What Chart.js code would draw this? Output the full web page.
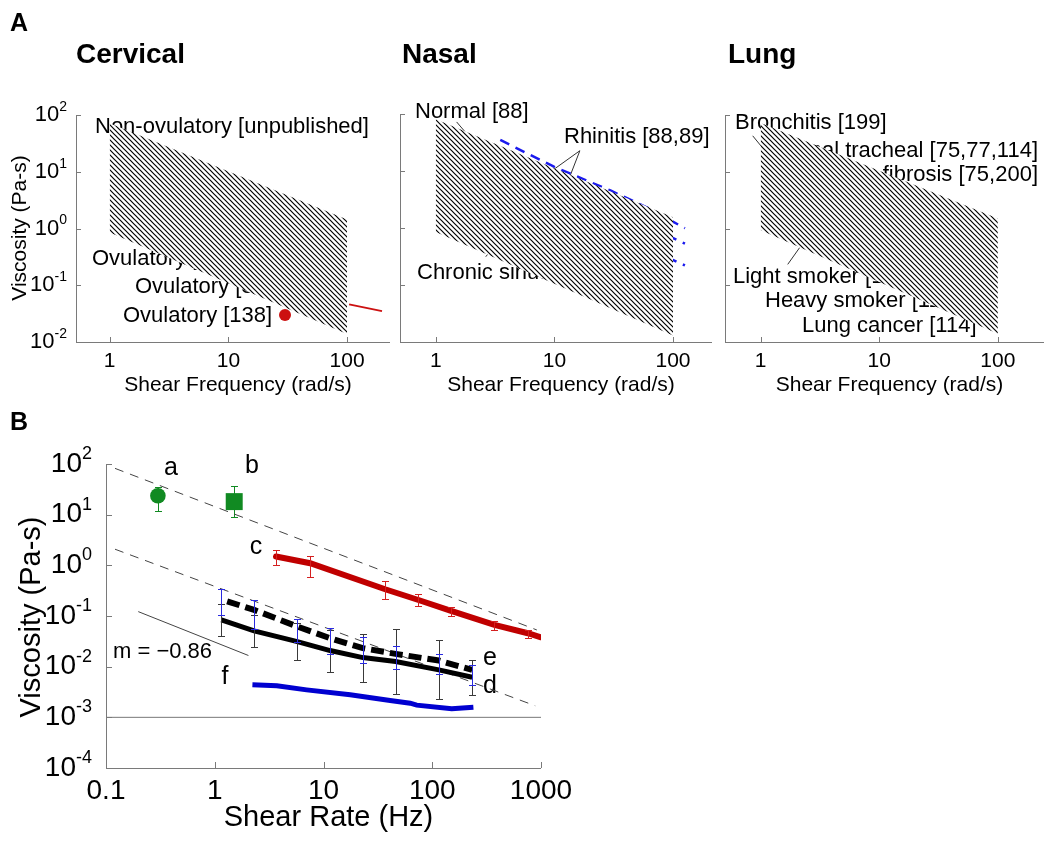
<!DOCTYPE html>
<html>
<head>
<meta charset="utf-8">
<script src="https://cdn.jsdelivr.net/npm/chart.js@4.4.1/dist/chart.umd.min.js"></script>
<style>
  html, body { margin: 0; padding: 0; background: #fff; }
  body { width: 1050px; height: 846px; position: relative; overflow: hidden; }
  canvas { position: absolute; }
</style>
</head>
<body>
<canvas id="cerv" width="396" height="400" style="left:0;top:0"></canvas>
<canvas id="nasal" width="324" height="400" style="left:396px;top:0"></canvas>
<canvas id="lung" width="330" height="400" style="left:720px;top:0"></canvas>
<canvas id="panelB" width="600" height="446" style="left:0;top:400px"></canvas>
<script>
const FONT = '"Liberation Sans", Arial, Helvetica, sans-serif';

// ---- panel A: shear frequency (rad/s) vs viscosity (Pa-s) ----
const freqTicks = [1, 10, 100];
const freqLabels = ['1', '10', '100'];
const viscExpA = [-2, -1, 0, 1, 2];
const bandX = [1, 100];
const cervTop = [71.5, 1.44];
const cervBottom = [0.85, 0.0138];
const nasalTop = [81, 1.55];
const nasalBottom = [0.85, 0.013];
const lungTop = [72, 1.5];
const lungBottom = [0.93, 0.014];
const ovulLineX = [104, 197];
const ovulLineY = [0.046, 0.035];
const ovulDotX = [30];
const ovulDotY = [0.03];
const rhinX = [3.5, 10, 30, 60, 126];
const rhinHigh = [35, 11.8, 4.5, 2.3, 0.99];
const rhinMid = [22, 7, 2.4, 1.1, 0.53];
const rhinLow = [9, 3, 1, 0.45, 0.22];

// ---- panel B: shear rate (Hz) vs viscosity (Pa-s) ----
const rateTicks = [0.1, 1, 10, 100, 1000];
const rateLabels = ['0.1', '1', '10', '100', '1000'];
const viscExpB = [-4, -3, -2, -1, 0, 1, 2];
const aX = [0.3], aY = [23.7], aLo = [12], aHi = [35.8];
const bX = [1.51], bY = [18.1], bLo = [9], bHi = [36.8];
const cX = [3.66, 7.54, 36.9, 74.7, 149, 373, 757, 1000];
const cY = [1.49, 1.10, 0.337, 0.207, 0.126, 0.0667, 0.0457, 0.038];
const cErrX = [3.66, 7.54, 36.9, 74.7, 149, 373, 757];
const cErrHi = [2.01, 1.55, 0.49, 0.268, 0.153, 0.081, 0.053];
const cErrLo = [1.02, 0.58, 0.217, 0.158, 0.102, 0.053, 0.0365];
const dX = [1.15, 2.3, 5.75, 11.5, 23, 46, 115, 233];
const dY = [0.0838, 0.0508, 0.0313, 0.0208, 0.0151, 0.0126, 0.00865, 0.0062];
const dHi = [0.175, 0.106, 0.072, 0.054, 0.045, 0.055, 0.033, 0.0138];
const dLo = [0.04, 0.0243, 0.0136, 0.008, 0.00508, 0.0029, 0.00229, 0.00278];
const eX = [1.3, 2.3, 5.75, 11.5, 23, 46, 115, 233];
const eY = [0.195, 0.132, 0.0618, 0.0365, 0.0232, 0.0179, 0.0132, 0.00865];
const eErrX = [1.15, 2.3, 5.75, 11.5, 23, 46, 115, 233];
const eHi = [0.338, 0.207, 0.0862, 0.0574, 0.0381, 0.026, 0.0179, 0.0108];
const eLo = [0.105, 0.0548, 0.0313, 0.0179, 0.0117, 0.00906, 0.0072, 0.0044];
const fX = [2.22, 3.72, 7.0, 17.6, 41, 62.7, 72, 151, 239];
const fY = [0.00438, 0.00418, 0.00348, 0.00278, 0.00215, 0.0019, 0.00174, 0.00147, 0.00158];
const refHighX = [0.121, 916], refHighY = [82, 0.053];
const refLowX = [0.121, 885], refLowY = [2.08, 0.00169];
const slopeX = [0.198, 2.04], slopeY = [0.122, 0.0166];
const waterX = [0.1, 1000], waterY = [0.001, 0.001];

const pts = (xs, ys) => xs.map((x, i) => ({ x: x, y: ys[i] }));

function hatchPattern() {
  const s = 5;
  const c = document.createElement('canvas');
  c.width = s; c.height = s;
  const g = c.getContext('2d');
  g.fillStyle = '#fff';
  g.fillRect(0, 0, s, s);
  g.strokeStyle = '#000';
  g.lineWidth = 1.2;
  g.beginPath();
  g.moveTo(0, 0); g.lineTo(s, s);
  g.moveTo(-1, s - 1); g.lineTo(1, s + 1);
  g.moveTo(s - 1, -1); g.lineTo(s + 1, 1);
  g.stroke();
  return g.createPattern(c, 'repeat');
}

function text(ctx, s, x, y, font, align) {
  ctx.font = font;
  ctx.textAlign = align || 'left';
  ctx.textBaseline = 'middle';
  ctx.fillStyle = '#000';
  ctx.fillText(s, x, y);
}

function powLabel(ctx, e, xr, y, size, supSize, raise) {
  const sup = String(e);
  ctx.font = supSize + 'px ' + FONT;
  const ew = ctx.measureText(sup).width;
  ctx.font = size + 'px ' + FONT;
  const bw = ctx.measureText('10').width;
  text(ctx, '10', xr - ew - bw, y, size + 'px ' + FONT);
  text(ctx, sup, xr - ew, y - raise, supSize + 'px ' + FONT);
}

function drawAxes(chart, s) {
  const ctx = chart.ctx, a = chart.chartArea, sx = chart.scales.x, sy = chart.scales.y;
  ctx.save();
  ctx.strokeStyle = '#7a7a7a';
  ctx.lineWidth = 1;
  ctx.beginPath();
  ctx.moveTo(a.left + 0.5, a.top);
  ctx.lineTo(a.left + 0.5, a.bottom + 0.5);
  ctx.lineTo(a.right, a.bottom + 0.5);
  s.xTicks.forEach(v => {
    const p = Math.round(sx.getPixelForValue(v)) + 0.5;
    ctx.moveTo(p, a.bottom);
    ctx.lineTo(p, a.bottom - s.tick);
  });
  s.yExp.forEach(e => {
    const p = Math.round(sy.getPixelForValue(Math.pow(10, e))) + 0.5;
    ctx.moveTo(a.left, p);
    ctx.lineTo(a.left + s.tick, p);
  });
  ctx.stroke();

  s.xTicks.forEach((v, i) => {
    text(ctx, s.xLabels[i], sx.getPixelForValue(v), s.xLabelY, s.tickFont + 'px ' + FONT, 'center');
  });
  if (s.yLabels) {
    s.yExp.forEach(e => {
      powLabel(ctx, e, a.left - s.yLabelGap, sy.getPixelForValue(Math.pow(10, e)), s.yFont, s.supFont, s.raise);
    });
    ctx.save();
    ctx.translate(s.yTitleX, s.yTitleY);
    ctx.rotate(-Math.PI / 2);
    text(ctx, 'Viscosity (Pa-s)', 0, 0, s.titleFont + 'px ' + FONT, 'center');
    ctx.restore();
  }
  text(ctx, s.xTitle, (a.left + a.right) / 2 + 5, s.xTitleY, s.titleFont + 'px ' + FONT, 'center');
  ctx.restore();
}

function leaders(chart, segs) {
  const ctx = chart.ctx, sx = chart.scales.x, sy = chart.scales.y;
  ctx.save();
  ctx.strokeStyle = '#333';
  ctx.lineWidth = 1;
  ctx.beginPath();
  segs.forEach(sg => {
    ctx.moveTo(sx.getPixelForValue(sg[0][0]), sy.getPixelForValue(sg[0][1]));
    ctx.lineTo(sx.getPixelForValue(sg[1][0]), sy.getPixelForValue(sg[1][1]));
  });
  ctx.stroke();
  ctx.restore();
}

function errorBars(chart, xs, lo, hi, color, cap) {
  const ctx = chart.ctx, sx = chart.scales.x, sy = chart.scales.y;
  ctx.save();
  ctx.strokeStyle = color;
  ctx.lineWidth = 1;
  ctx.beginPath();
  xs.forEach((x, i) => {
    const px = Math.round(sx.getPixelForValue(x)) + 0.5;
    const p1 = Math.round(sy.getPixelForValue(hi[i])) + 0.5;
    const p2 = Math.round(sy.getPixelForValue(lo[i])) + 0.5;
    ctx.moveTo(px, p1); ctx.lineTo(px, p2);
    ctx.moveTo(px - cap, p1); ctx.lineTo(px + cap, p1);
    ctx.moveTo(px - cap, p2); ctx.lineTo(px + cap, p2);
  });
  ctx.stroke();
  ctx.restore();
}

function makeChart(id, s, datasets) {
  return new Chart(document.getElementById(id), {
    type: 'line',
    data: { datasets: datasets },
    options: {
      responsive: false,
      animation: false,
      devicePixelRatio: 1,
      events: [],
      layout: { padding: s.pad },
      elements: { point: { radius: 0, hoverRadius: 0 }, line: { tension: 0 } },
      plugins: { legend: { display: false }, tooltip: { enabled: false } },
      scales: {
        x: {
          type: 'logarithmic', min: s.xMin, max: s.xMax,
          ticks: { display: false }, grid: { display: false, drawTicks: false },
          border: { display: false }, title: { display: false }
        },
        y: {
          type: 'logarithmic', min: s.yMin, max: s.yMax,
          ticks: { display: false }, grid: { display: false, drawTicks: false },
          border: { display: false }, title: { display: false }
        }
      }
    },
    plugins: [{
      id: 'panel-' + id,
      beforeDatasetsDraw(chart) { if (s.under) s.under(chart, chart.ctx); },
      afterDatasetsDraw(chart) {
        if (s.over) s.over(chart, chart.ctx);
        drawAxes(chart, s);
      }
    }]
  });
}

const hatch = hatchPattern();
function band(top, bottom) {
  return [
    { data: pts(bandX, top), borderWidth: 0, fill: '+1', backgroundColor: hatch },
    { data: pts(bandX, bottom), borderWidth: 0, fill: false }
  ];
}

const topStyle = {
  xTicks: freqTicks, xLabels: freqLabels, yExp: viscExpA, tick: 5,
  xLabelY: 361, tickFont: 21, xTitle: 'Shear Frequency (rad/s)', xTitleY: 385, titleFont: 21,
  yMin: 0.01, yMax: 100
};
const F22 = '22px ' + FONT;
const BOLD = 'bold 28px ' + FONT;

// Cervical
makeChart('cerv', Object.assign({}, topStyle, {
  xMin: 0.52, xMax: 230,
  pad: { left: 76, right: 5, top: 115, bottom: 58 },
  yLabels: true, yFont: 22, supFont: 14, raise: 8, yLabelGap: 9,
  yTitleX: 20, yTitleY: 228,
  under(chart, ctx) {
    text(ctx, 'A', 10, 24, 'bold 25px ' + FONT);
    text(ctx, 'Cervical', 76, 55, BOLD);
    text(ctx, 'Non-ovulatory [unpublished]', 95, 127, F22);
    text(ctx, 'Ovulatory [137]', 92, 259, F22);
    text(ctx, 'Ovulatory [89]', 135, 287, F22);
    text(ctx, 'Ovulatory [138]', 123, 316, F22);
  }
}), band(cervTop, cervBottom).concat([
  { data: pts(ovulLineX, ovulLineY), borderColor: '#cc1111', borderWidth: 2 },
  { data: pts(ovulDotX, ovulDotY), showLine: false, pointRadius: 6, pointBackgroundColor: '#cc1111', pointBorderWidth: 0 }
]));

// Nasal
makeChart('nasal', Object.assign({}, topStyle, {
  xMin: 0.5, xMax: 213,
  pad: { left: 4, right: 8, top: 114, bottom: 58 },
  yLabels: false,
  under(chart, ctx) {
    text(ctx, 'Nasal', 6, 55, BOLD);
    text(ctx, 'Normal [88]', 19, 112, F22);
    text(ctx, 'Rhinitis [88,89]', 168, 137, F22);
    text(ctx, 'Chronic sinusitis [88]', 21, 273, F22);
    leaders(chart, [
      [[1.5, 72.6], [1.86, 43]],
      [[16.4, 22.7], [10.1, 11.0]],
      [[16.4, 22.7], [13.5, 8.0]],
      [[2.64, 0.313], [3.47, 0.645]]
    ]);
  }
}), band(nasalTop, nasalBottom).concat([
  { data: pts(rhinX, rhinHigh), borderColor: '#1a1aee', borderWidth: 2.5, borderDash: [10, 7] },
  { data: pts(rhinX, rhinMid), borderColor: '#1a1aee', borderWidth: 2.5, borderDash: [10, 7] },
  { data: pts(rhinX, rhinLow), borderColor: '#1a1aee', borderWidth: 2.5, borderDash: [10, 7] }
]));

// Lung
makeChart('lung', Object.assign({}, topStyle, {
  xMin: 0.5, xMax: 245,
  pad: { left: 5, right: 6, top: 115, bottom: 58 },
  yLabels: false,
  under(chart, ctx) {
    text(ctx, 'Lung', 8, 55, BOLD);
    text(ctx, 'Bronchitis [199]', 15, 123, F22);
    text(ctx, 'Normal tracheal [75,77,114]', 318, 151, F22, 'right');
    text(ctx, 'Cystic fibrosis [75,200]', 318, 175, F22, 'right');
    text(ctx, 'Light smoker [114]', 13, 277, F22);
    text(ctx, 'Heavy smoker [114]', 45, 301, F22);
    text(ctx, 'Lung cancer [114]', 82, 326, F22);
    leaders(chart, [
      [[0.856, 43], [1.02, 27.5]],
      [[1.69, 0.233], [2.13, 0.46]]
    ]);
  }
}), band(lungTop, lungBottom));

// Panel B
const F25 = '25px ' + FONT;
makeChart('panelB', {
  xTicks: rateTicks, xLabels: rateLabels, yExp: viscExpB, tick: 6,
  xLabelY: 391, tickFont: 28, xTitle: 'Shear Rate (Hz)', xTitleY: 418, titleFont: 29,
  xMin: 0.1, xMax: 1000, yMin: 1e-4, yMax: 100,
  pad: { left: 106, right: 59, top: 64, bottom: 78 },
  yLabels: true, yFont: 28, supFont: 18, raise: 10, yLabelGap: 14,
  yTitleX: 32, yTitleY: 217,
  under(chart, ctx) {
    text(ctx, 'B', 10, 23, 'bold 25px ' + FONT);
    text(ctx, 'a', 171, 68, F25, 'center');
    text(ctx, 'b', 252, 66, F25, 'center');
    text(ctx, 'c', 256, 147, F25, 'center');
    text(ctx, 'e', 490, 258, F25, 'center');
    text(ctx, 'd', 490, 286, F25, 'center');
    text(ctx, 'f', 225, 277, F25, 'center');
    text(ctx, 'm = \u22120.86', 113, 252, '22px ' + FONT);
    errorBars(chart, aX, aLo, aHi, '#118a22', 3.5);
    errorBars(chart, bX, bLo, bHi, '#118a22', 3.5);
  },
  over(chart) {
    errorBars(chart, cErrX, cErrLo, cErrHi, '#d42020', 3.5);
    errorBars(chart, eErrX, dLo, dHi, '#3a3a3a', 3.5);
    errorBars(chart, eErrX, eLo, eHi, '#2a2ae0', 3.5);
  }
}, [
  { data: pts(aX, aY), showLine: false, pointRadius: 7.8, pointStyle: 'circle', pointBackgroundColor: '#118a22', pointBorderWidth: 0 },
  { data: pts(bX, bY), showLine: false, pointRadius: 12, pointStyle: 'rect', pointBackgroundColor: '#118a22', pointBorderWidth: 0 },
  { data: pts(cX, cY), borderColor: '#c00000', borderWidth: 6, borderCapStyle: 'round' },
  { data: pts(eX, eY), borderColor: '#000', borderWidth: 6, borderDash: [13, 6] },
  { data: pts(dX, dY), borderColor: '#000', borderWidth: 5 },
  { data: pts(fX, fY), borderColor: '#0000d0', borderWidth: 5 },
  { data: pts(refHighX, refHighY), borderColor: '#444', borderWidth: 1, borderDash: [9, 7] },
  { data: pts(refLowX, refLowY), borderColor: '#444', borderWidth: 1, borderDash: [9, 7] },
  { data: pts(slopeX, slopeY), borderColor: '#444', borderWidth: 1 },
  { data: pts(waterX, waterY), borderColor: '#777', borderWidth: 1 }
]);
</script>
</body>
</html>
